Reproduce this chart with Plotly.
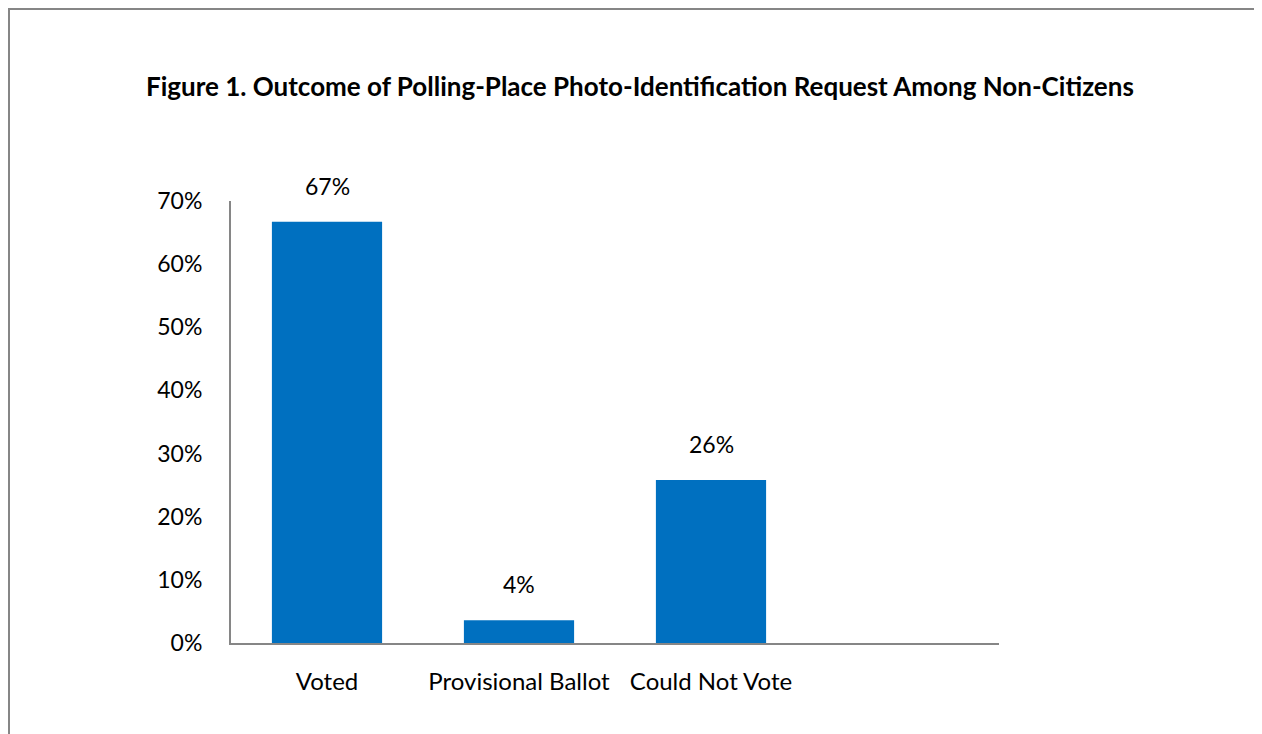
import plotly.graph_objects as go

categories = ["Voted", "Provisional Ballot", "Could Not Vote"]
values = [0.667, 0.036, 0.258]
labels = ["67%", "4%", "26%"]
tick_vals = [0, 0.1, 0.2, 0.3, 0.4, 0.5, 0.6, 0.7]
tick_text = ["0%", "10%", "20%", "30%", "40%", "50%", "60%", "70%"]
title_text = "Figure 1. Outcome of Polling-Place Photo-Identification Request Among Non-Citizens"

OFF = 8  # page body margin offset
W, H = 1262 - OFF, 734 - OFF
L, T = 231 - OFF, 201 - OFF
pw, ph = 768, 442
R = W - L - pw
B = H - T - ph

FONT = "Lato"
AX = "#868686"


def px(x):
    return (x - OFF - L) / pw


def py(y):
    return (T + ph - (y - OFF)) / ph


fig = go.Figure()
fig.add_trace(go.Bar(x=categories, y=values, marker=dict(color="#0070C0", line=dict(width=0)),
                     hoverinfo="skip"))

for c, v, t in zip(categories, values, labels):
    fig.add_annotation(x=c, y=v, text=t, showarrow=False, yanchor="bottom", yshift=20,
                       font=dict(family=FONT, size=23, color="#000"))

fig.add_annotation(xref="paper", yref="paper", x=px(640), y=py(86),
                   text="<b>" + title_text + "</b>", showarrow=False,
                   xanchor="center", yanchor="middle",
                   font=dict(family=FONT, size=26, color="#000"))

# outer border
fig.add_shape(type="rect", xref="paper", yref="paper",
              x0=px(9), x1=px(1256), y0=py(780), y1=py(9),
              line=dict(color=AX, width=2), fillcolor="rgba(0,0,0,0)")

fig.update_layout(
    width=W, height=H,
    margin=dict(l=L, r=R, t=T, b=B),
    paper_bgcolor="white", plot_bgcolor="white",
    bargap=0.426, showlegend=False,
    font=dict(family=FONT, size=23, color="#000"),
)
fig.update_xaxes(type="category", range=[-0.5, 3.5], showline=True, linecolor=AX, linewidth=2,
                 showgrid=False, ticks="", ticklabelstandoff=16,
                 tickfont=dict(family=FONT, size=24, color="#000"), fixedrange=True)
fig.update_yaxes(range=[0, 0.7], tickvals=tick_vals, ticktext=tick_text, showline=True,
                 linecolor=AX, linewidth=2, showgrid=False, zeroline=False, ticks="",
                 ticklabelstandoff=22, tickfont=dict(family=FONT, size=23, color="#000"),
                 fixedrange=True)

fig.write_html("out.html")
